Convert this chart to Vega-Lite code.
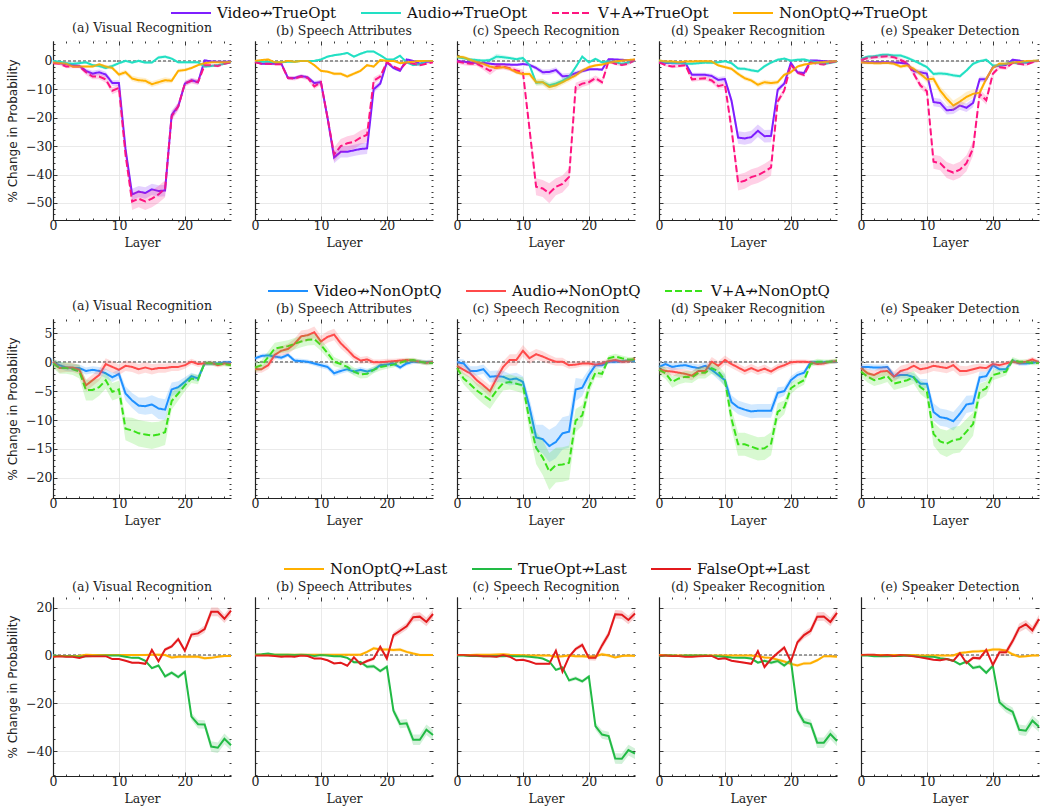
{
  "$schema": "https://vega.github.io/schema/vega-lite/v6.json",
  "padding": {"left": 6, "top": 2, "right": 5, "bottom": 2},
  "background": "white",
  "datasets": {
    "r1": [
      {"p":"a","s":"Video↛TrueOpt","l":[0,1,2,3,4,5,6,7,8,9,10,11,12,13,14,15,16,17,18,19,20,21,22,23,24,25,26,27],"v":[-0.5,-0.8,-1.2,-1.5,-1.8,-3.5,-4.5,-4,-4.8,-7.8,-7.8,-31,-47,-46,-46.5,-45.2,-45.8,-45.6,-19,-16,-8,-6.8,-7.5,0.2,-0.2,-0.3,-0.3,-0.2],"e":[0.3,0.3,0.4,0.5,0.6,0.8,1,1,1,1,1,1.5,2,2,2,2,2,2,1.5,1.2,0.8,0.8,0.8,0.4,0.3,0.3,0.3,0.3]},
      {"p":"a","s":"Audio↛TrueOpt","l":[0,1,2,3,4,5,6,7,8,9,10,11,12,13,14,15,16,17,18,19,20,21,22,23,24,25,26,27],"v":[0,-0.3,-0.8,-1,-0.8,-0.5,-1.5,-1.8,-2.5,-1.8,-0.8,0,-0.6,0,-0.6,-0.6,1.2,1.5,0.8,-0.5,-0.5,-0.5,-0.5,-2,-1.8,-1.5,-1,-0.5],"e":[0.4,0.4,0.4,0.5,0.5,0.5,0.5,0.6,0.6,0.6,0.5,0.5,0.5,0.5,0.5,0.5,0.6,0.6,0.5,0.5,0.5,0.5,0.5,0.5,0.5,0.4,0.4,0.4]},
      {"p":"a","s":"V+A↛TrueOpt","l":[0,1,2,3,4,5,6,7,8,9,10,11,12,13,14,15,16,17,18,19,20,21,22,23,24,25,26,27],"v":[-0.8,-1,-2,-2,-2,-4,-5.5,-5.5,-6.5,-10.5,-9.5,-33,-49.5,-48.5,-49.5,-48.5,-47,-45,-19.5,-16,-8,-7,-7.5,-1.5,-1.5,-1.8,-1,-0.5],"e":[0.4,0.5,0.6,0.6,0.6,1,1,1,1.2,1.2,1.2,2,3,3,3,3,3,3,1.5,1.5,1,1,1,0.6,0.5,0.5,0.4,0.4]},
      {"p":"a","s":"NonOptQ↛TrueOpt","l":[0,1,2,3,4,5,6,7,8,9,10,11,12,13,14,15,16,17,18,19,20,21,22,23,24,25,26,27],"v":[-0.5,-0.8,-1,-2,-2,-2,-2,-1.2,-2,-2.5,-4.8,-4,-6.2,-6.8,-7,-8.2,-7.5,-6.8,-7,-3.5,-3.2,-2.5,-1.5,-0.8,-0.5,-0.5,-0.5,-0.3],"e":[0.3,0.3,0.4,0.4,0.5,0.5,0.5,0.5,0.6,0.7,0.8,0.9,1,1,1,1,1,1,0.9,0.7,0.6,0.5,0.5,0.4,0.3,0.3,0.3,0.3]},
      {"p":"b","s":"Video↛TrueOpt","l":[0,1,2,3,4,5,6,7,8,9,10,11,12,13,14,15,16,17,18,19,20,21,22,23,24,25,26,27],"v":[-0.3,-1,-1,-1,-1,-6,-6,-5.3,-5.8,-7.8,-7.5,-20,-34,-32,-32,-31.5,-31,-30.8,-10,-8,-0.5,-2.5,-3.5,0.5,0,-1,-0.3,-0.2],"e":[0.3,0.3,0.3,0.3,0.3,0.6,0.6,0.6,0.7,0.8,0.8,1.5,2,2,2,2,2,2,1.2,1,0.5,0.5,0.5,0.3,0.3,0.3,0.3,0.3]},
      {"p":"b","s":"Audio↛TrueOpt","l":[0,1,2,3,4,5,6,7,8,9,10,11,12,13,14,15,16,17,18,19,20,21,22,23,24,25,26,27],"v":[-0.3,-0.3,-0.3,-0.5,-0.5,-0.3,-0.3,0,0,0,0.5,1.5,2,2.3,2.8,1.5,2.5,3.3,3.3,2,0.5,0.5,1.8,-0.5,-1.5,-1.2,0,0],"e":[0.3,0.3,0.3,0.3,0.3,0.3,0.3,0.3,0.3,0.3,0.4,0.4,0.4,0.4,0.4,0.4,0.4,0.4,0.4,0.4,0.4,0.4,0.4,0.3,0.3,0.3,0.3,0.3]},
      {"p":"b","s":"V+A↛TrueOpt","l":[0,1,2,3,4,5,6,7,8,9,10,11,12,13,14,15,16,17,18,19,20,21,22,23,24,25,26,27],"v":[-0.5,-1,-1,-1.2,-1.2,-6,-6.2,-5.5,-6,-9,-7.5,-20,-33,-30,-29,-28.5,-27,-26,-7,-5.5,-0.5,-2,-3,-0.5,-1,-1.5,-1,-0.5],"e":[0.3,0.3,0.4,0.4,0.4,0.7,0.7,0.7,0.8,1,1,1.5,2.5,2.5,2.5,2.5,2.5,2.5,1.2,1,0.5,0.5,0.5,0.4,0.4,0.4,0.3,0.3]},
      {"p":"b","s":"NonOptQ↛TrueOpt","l":[0,1,2,3,4,5,6,7,8,9,10,11,12,13,14,15,16,17,18,19,20,21,22,23,24,25,26,27],"v":[0,0.3,0.5,-0.5,-0.5,0,-0.3,0,0,-1.5,-3.5,-3.8,-4.5,-4.5,-5.5,-4.5,-3.5,-1.5,-2,0.3,0,0,-0.8,-0.5,-0.3,0,0,0],"e":[0.3,0.3,0.3,0.3,0.3,0.3,0.3,0.3,0.3,0.4,0.5,0.5,0.6,0.6,0.6,0.6,0.6,0.5,0.5,0.4,0.3,0.3,0.3,0.3,0.3,0.3,0.3,0.3]},
      {"p":"c","s":"Video↛TrueOpt","l":[0,1,2,3,4,5,6,7,8,9,10,11,12,13,14,15,16,17,18,19,20,21,22,23,24,25,26,27],"v":[0,-0.3,-0.5,-0.7,-0.7,-1,-1.2,-1.2,-1.3,-1.4,-1.1,-1.4,-2.5,-4,-3.9,-3.2,-5.4,-5.3,-4.3,-3.6,-3,-2.9,-3.1,0.6,0.5,0.4,0.2,0.2],"e":[0.4,0.4,0.4,0.5,0.5,0.5,0.5,0.5,0.5,0.5,0.5,0.6,0.8,1,1,1,1,1,0.8,0.7,0.6,0.5,0.5,0.4,0.3,0.3,0.3,0.3]},
      {"p":"c","s":"Audio↛TrueOpt","l":[0,1,2,3,4,5,6,7,8,9,10,11,12,13,14,15,16,17,18,19,20,21,22,23,24,25,26,27],"v":[1.3,0.9,0.5,0.3,0.1,0.3,1.5,1.3,1,0.6,1,-1.5,-7.7,-7.5,-8.6,-8,-7,-5.7,-2.2,1.5,-0.5,0.7,-0.5,-0.1,-0.5,-1,-0.6,0],"e":[0.6,0.5,0.5,0.5,0.5,0.6,1,0.8,0.6,0.6,0.6,0.6,1,1,1,1,1,0.8,0.6,0.6,0.5,0.5,0.5,0.5,0.5,0.5,0.4,0.4]},
      {"p":"c","s":"V+A↛TrueOpt","l":[0,1,2,3,4,5,6,7,8,9,10,11,12,13,14,15,16,17,18,19,20,21,22,23,24,25,26,27],"v":[-0.2,-0.7,-1,-1,-2.2,-3.5,-2,-2,-2.6,-3.4,-4,-24,-44.3,-44.9,-46.6,-44.3,-43.3,-40.8,-9.2,-8,-7.5,-6.1,-7.5,-0.1,-1,-1.4,-1,0.3],"e":[0.8,0.8,0.8,0.8,1,1.5,1.2,1,1,1,1,2,3,3,3.5,3,3,3,1.5,1.2,1,1,1,0.6,0.5,0.5,0.5,0.5]},
      {"p":"c","s":"NonOptQ↛TrueOpt","l":[0,1,2,3,4,5,6,7,8,9,10,11,12,13,14,15,16,17,18,19,20,21,22,23,24,25,26,27],"v":[1.5,1.3,0.4,-0.5,-1,-2,-2.5,-2.2,-2.8,-4,-4.6,-4.6,-7.5,-7.5,-9.2,-8.6,-7.5,-6.3,-5.1,-3.4,-2.2,-1.6,-1.3,-0.7,-0.2,0.1,0.3,0.5],"e":[0.7,0.6,0.6,0.6,0.6,0.6,0.6,0.6,0.6,0.7,0.8,0.9,1.2,1.2,1.2,1.2,1,1,0.8,0.7,0.6,0.5,0.5,0.4,0.4,0.4,0.4,0.4]},
      {"p":"d","s":"Video↛TrueOpt","l":[0,1,2,3,4,5,6,7,8,9,10,11,12,13,14,15,16,17,18,19,20,21,22,23,24,25,26,27],"v":[-0.5,-0.7,-0.8,-0.8,-0.7,-4.9,-4.9,-4.9,-5.3,-6.7,-6.4,-14,-27,-27.3,-26.8,-24.6,-26.5,-26.4,-10.2,-8,-0.7,-4,-4.3,0.1,0.1,-0.1,-0.2,-0.1],"e":[0.4,0.4,0.4,0.4,0.4,0.7,0.7,0.7,0.8,1,1,1.5,2.2,2.2,2.2,2.2,2.2,2.2,1,0.8,0.5,0.6,0.6,0.4,0.3,0.3,0.3,0.3]},
      {"p":"d","s":"Audio↛TrueOpt","l":[0,1,2,3,4,5,6,7,8,9,10,11,12,13,14,15,16,17,18,19,20,21,22,23,24,25,26,27],"v":[0.1,-0.5,-0.7,-0.8,-1,-1,-0.8,-0.6,-0.7,-0.5,-0.1,-0.8,-2.7,-2.8,-3.3,-3.7,-1.9,-0.6,0.4,0.8,0.1,0.4,0.5,-0.1,-0.6,-1,-0.7,-0.2],"e":[0.5,0.5,0.5,0.5,0.5,0.5,0.5,0.5,0.5,0.5,0.5,0.5,0.6,0.6,0.6,0.6,0.6,0.5,0.5,0.5,0.5,0.5,0.5,0.5,0.5,0.5,0.5,0.5]},
      {"p":"d","s":"V+A↛TrueOpt","l":[0,1,2,3,4,5,6,7,8,9,10,11,12,13,14,15,16,17,18,19,20,21,22,23,24,25,26,27],"v":[-0.5,-1.5,-2,-1.8,-1.5,-6.5,-6.3,-6.1,-6.9,-8.9,-8.3,-24,-42.8,-42.2,-40.9,-40.2,-39,-37.5,-14.3,-10.4,-1.4,-4.2,-5,-0.5,-1,-1.3,-0.6,-0.1],"e":[0.4,0.5,0.6,0.6,0.6,0.8,0.8,0.8,0.9,1,1,2,2.8,2.8,2.8,2.8,2.8,2.8,1.2,1,0.6,0.6,0.7,0.4,0.4,0.4,0.4,0.3]},
      {"p":"d","s":"NonOptQ↛TrueOpt","l":[0,1,2,3,4,5,6,7,8,9,10,11,12,13,14,15,16,17,18,19,20,21,22,23,24,25,26,27],"v":[0.1,-0.2,-0.2,-0.5,-0.2,-0.2,-0.1,-0.1,-0.2,-1.6,-2.2,-2.8,-4.6,-6.1,-6.9,-8.4,-7.5,-7.8,-7.5,-4.9,-4,-2,-1.3,-1,-0.6,-0.4,-0.2,-0.1],"e":[0.4,0.4,0.4,0.4,0.4,0.4,0.4,0.4,0.4,0.5,0.6,0.7,0.8,0.8,0.8,0.9,0.9,0.9,0.8,0.7,0.6,0.5,0.5,0.4,0.4,0.4,0.4,0.4]},
      {"p":"e","s":"Video↛TrueOpt","l":[0,1,2,3,4,5,6,7,8,9,10,11,12,13,14,15,16,17,18,19,20,21,22,23,24,25,26,27],"v":[-0.5,-0.5,-0.5,-0.5,-0.5,-0.6,-0.7,-1,-3.6,-4,-4.5,-14.5,-14.8,-17.4,-17.2,-15.7,-16.5,-14.8,-6.5,-6.5,-2.2,-1.6,-1.4,0.4,0.1,-0.6,-0.2,0.1],"e":[0.5,0.5,0.5,0.5,0.5,0.5,0.5,0.6,0.8,1,1,1.5,1.5,1.5,1.5,1.5,1.5,1.5,1,0.8,0.6,0.5,0.5,0.4,0.4,0.4,0.3,0.3]},
      {"p":"e","s":"Audio↛TrueOpt","l":[0,1,2,3,4,5,6,7,8,9,10,11,12,13,14,15,16,17,18,19,20,21,22,23,24,25,26,27],"v":[0.7,1.5,1.6,2.1,2.2,1.9,1.9,1.1,0.1,-1,-2.2,-4.6,-4.4,-4.6,-5.1,-5.4,-3.4,-1,-0.1,0.4,-1.6,-1.6,-1,-0.5,-1,-0.5,-0.1,0.1],"e":[0.6,0.6,0.6,0.6,0.6,0.6,0.6,0.6,0.6,0.6,0.6,0.7,0.7,0.7,0.7,0.7,0.6,0.6,0.5,0.5,0.5,0.5,0.5,0.4,0.4,0.4,0.4,0.4]},
      {"p":"e","s":"V+A↛TrueOpt","l":[0,1,2,3,4,5,6,7,8,9,10,11,12,13,14,15,16,17,18,19,20,21,22,23,24,25,26,27],"v":[0.3,1,1.3,1.5,1.6,1.3,0.3,-0.7,-4.5,-8.6,-10.7,-35.5,-36,-38.4,-39.3,-38.3,-36,-30.8,-11.6,-13.9,-4.5,-2.2,-2.5,-0.7,-1,-1.4,-0.5,0.1],"e":[0.6,0.7,0.7,0.7,0.7,0.7,0.8,0.8,1,1.2,1.2,2.5,2.5,2.8,2.8,2.8,2.8,2.5,1.5,1.5,0.8,0.7,0.7,0.5,0.5,0.5,0.4,0.4]},
      {"p":"e","s":"NonOptQ↛TrueOpt","l":[0,1,2,3,4,5,6,7,8,9,10,11,12,13,14,15,16,17,18,19,20,21,22,23,24,25,26,27],"v":[-0.5,-0.7,-0.8,-0.8,-0.7,-1,-2,-1.6,-2.8,-4.6,-6.5,-6.3,-10.4,-13.3,-15.7,-14.3,-12.7,-11.6,-11.2,-6.3,-2.4,-1,-1,-0.6,-0.4,-0.1,0,0.1],"e":[0.6,0.6,0.6,0.6,0.6,0.6,0.7,0.7,0.8,1,1.2,1.2,1.5,1.8,1.8,1.8,1.8,1.5,1.2,1,0.7,0.6,0.5,0.4,0.4,0.4,0.4,0.4]}
    ],
    "r2": [
      {"p":"a","s":"Video↛NonOptQ","l":[0,1,2,3,4,5,6,7,8,9,10,11,12,13,14,15,16,17,18,19,20,21,22,23,24,25,26,27],"v":[0,-0.5,-0.9,-1,-1,-1.5,-1.3,-1.5,-1.9,-2.6,-2,-5.4,-6.6,-7.5,-7.6,-7.3,-8,-8.2,-4.7,-4.3,-3.4,-2.4,-2.8,-0.2,-0.2,-0.2,0,0],"e":[0.6,0.6,0.6,0.6,0.6,0.6,0.6,0.7,0.8,0.8,0.8,1.2,1.3,1.4,1.5,1.6,1.8,1.8,1.2,1,0.8,0.6,0.6,0.4,0.4,0.3,0.3,0.3]},
      {"p":"a","s":"Audio↛NonOptQ","l":[0,1,2,3,4,5,6,7,8,9,10,11,12,13,14,15,16,17,18,19,20,21,22,23,24,25,26,27],"v":[0.1,-1,-0.9,-0.9,-1.3,-4,-3.1,-2.2,-0.3,-0.8,-1.3,-0.6,-0.8,-1.2,-0.9,-1.2,-1,-1,-0.8,-0.8,-0.5,0.1,-0.3,-0.2,-0.1,-0.5,-0.2,-0.3],"e":[0.6,0.8,0.8,0.8,0.8,1,1,1,1,1,0.9,0.9,0.9,0.9,0.9,0.9,0.8,0.8,0.7,0.7,0.6,0.5,0.5,0.4,0.4,0.4,0.4,0.4]},
      {"p":"a","s":"V+A↛NonOptQ","l":[0,1,2,3,4,5,6,7,8,9,10,11,12,13,14,15,16,17,18,19,20,21,22,23,24,25,26,27],"v":[-0.2,-1,-1,-1.2,-1.6,-4.8,-4.8,-4.3,-3.1,-5.1,-4.7,-11.5,-11.8,-12.3,-12.5,-12.7,-12.5,-12.1,-6.7,-5.4,-4,-2.8,-3,-0.1,-0.2,-0.3,-0.3,-0.5],"e":[0.8,1,1,1,1.2,1.8,1.8,1.5,1.5,1.5,1.5,2,2.2,2.3,2.3,2.3,2.2,2.2,1.5,1.2,1,0.8,0.8,0.4,0.4,0.4,0.4,0.4]},
      {"p":"b","s":"Video↛NonOptQ","l":[0,1,2,3,4,5,6,7,8,9,10,11,12,13,14,15,16,17,18,19,20,21,22,23,24,25,26,27],"v":[0.7,1.1,1.2,1,0.8,1.3,0.3,0.2,0.1,-0.2,-0.5,-0.8,-1.9,-1.5,-1.2,-1.6,-1.3,-1.6,-1.3,-0.5,-0.4,-0.2,-0.9,-0.2,0.1,0.1,0,0.1],"e":[0.4,0.4,0.4,0.4,0.4,0.4,0.4,0.4,0.4,0.4,0.5,0.5,0.5,0.5,0.5,0.5,0.5,0.5,0.5,0.4,0.4,0.4,0.4,0.4,0.4,0.4,0.4,0.4]},
      {"p":"b","s":"Audio↛NonOptQ","l":[0,1,2,3,4,5,6,7,8,9,10,11,12,13,14,15,16,17,18,19,20,21,22,23,24,25,26,27],"v":[-1.2,-1.2,-0.5,1.3,2,2.3,3.2,4.5,4.7,5.2,3.6,4.4,4.8,3.3,2.2,1,0.3,0.5,0,0,0.1,0.2,0.3,0.4,0.3,0.1,-0.1,0.1],"e":[0.6,0.6,0.7,0.8,0.8,0.9,0.9,1,1,1,1,1,1,0.9,0.8,0.7,0.6,0.6,0.5,0.5,0.5,0.4,0.4,0.4,0.4,0.4,0.4,0.4]},
      {"p":"b","s":"V+A↛NonOptQ","l":[0,1,2,3,4,5,6,7,8,9,10,11,12,13,14,15,16,17,18,19,20,21,22,23,24,25,26,27],"v":[-0.9,-0.5,0.9,2.4,2.6,2.8,3.2,3.6,3.9,4,3,1.6,0.1,-0.3,-0.8,-1.6,-2.1,-2,-1.3,-0.8,-0.6,-0.4,-0.1,0.3,0.4,0.1,-0.1,-0.1],"e":[0.8,0.9,1,1,1,1,1,1,1,1,1,0.9,0.8,0.7,0.7,0.7,0.7,0.7,0.6,0.6,0.5,0.5,0.4,0.4,0.4,0.4,0.4,0.4]},
      {"p":"c","s":"Video↛NonOptQ","l":[0,1,2,3,4,5,6,7,8,9,10,11,12,13,14,15,16,17,18,19,20,21,22,23,24,25,26,27],"v":[0,-0.2,-1.5,-1.5,-1.2,-2.5,-2.4,-2.5,-3,-2.8,-3.4,-7.8,-13,-13.3,-14.5,-13.8,-12.3,-12,-4.7,-4.4,-2.2,-0.5,-0.5,0.1,0.1,0.2,0.3,0.2],"e":[0.6,0.7,0.8,0.8,0.8,1,1,1,1,1,1,1.5,2.2,2.5,2.8,2.8,2.8,2.8,2,1.5,1,0.6,0.5,0.4,0.4,0.3,0.3,0.3]},
      {"p":"c","s":"Audio↛NonOptQ","l":[0,1,2,3,4,5,6,7,8,9,10,11,12,13,14,15,16,17,18,19,20,21,22,23,24,25,26,27],"v":[-0.6,-1.3,-1.9,-3.1,-4,-5,-2.8,-0.8,0.4,0.4,2,0.7,1.4,1,0.5,0.1,0.1,-0.5,-0.4,-0.2,-0.2,-0.4,-0.2,0.2,0.4,0.1,0.2,0.6],"e":[0.7,0.8,0.8,0.9,0.9,1,1,1,1,1,1,1,0.9,0.9,0.8,0.7,0.7,0.6,0.6,0.5,0.5,0.5,0.5,0.4,0.4,0.4,0.4,0.4]},
      {"p":"c","s":"V+A↛NonOptQ","l":[0,1,2,3,4,5,6,7,8,9,10,11,12,13,14,15,16,17,18,19,20,21,22,23,24,25,26,27],"v":[-1,-2.8,-3.8,-4.9,-5.7,-6.5,-4.9,-3.6,-3.4,-3.7,-4,-10.1,-14.8,-16.5,-18.9,-17.8,-17.7,-17.4,-10.1,-9.2,-4.3,-1.8,-2,0.7,1,0.7,0.5,0.5],"e":[0.8,1,1.2,1.3,1.5,1.6,1.5,1.3,1.3,1.3,1.4,2,2.8,3,3.2,3,3,3,2,1.8,1.2,0.8,0.7,0.5,0.5,0.5,0.4,0.4]},
      {"p":"d","s":"Video↛NonOptQ","l":[0,1,2,3,4,5,6,7,8,9,10,11,12,13,14,15,16,17,18,19,20,21,22,23,24,25,26,27],"v":[-0.8,-0.3,-0.8,-0.6,-0.5,-0.8,-1,-0.6,-1.3,-2.2,-3.1,-6.9,-7.8,-8.2,-8.5,-8.4,-8.4,-8.4,-5.3,-5,-3.1,-2.2,-1.8,0,0,0,0.1,0.1],"e":[0.6,0.6,0.6,0.6,0.6,0.6,0.6,0.6,0.7,0.8,1,1.2,1.2,1.2,1.2,1.2,1.2,1.2,1,0.8,0.7,0.6,0.5,0.4,0.4,0.3,0.3,0.3]},
      {"p":"d","s":"Audio↛NonOptQ","l":[0,1,2,3,4,5,6,7,8,9,10,11,12,13,14,15,16,17,18,19,20,21,22,23,24,25,26,27],"v":[-1.2,-1.5,-1.6,-1.8,-2,-2.3,-1.5,-1.5,0.1,-0.6,0.4,-0.3,-0.9,-1.5,-1,-1.5,-1.1,-1.6,-0.9,-0.5,0,0.1,0.1,0,-0.3,-0.2,0.1,0.2],"e":[0.7,0.7,0.7,0.7,0.8,0.8,0.8,0.8,0.8,0.8,0.8,0.7,0.7,0.7,0.7,0.7,0.7,0.6,0.6,0.5,0.5,0.4,0.4,0.4,0.4,0.4,0.4,0.4]},
      {"p":"d","s":"V+A↛NonOptQ","l":[0,1,2,3,4,5,6,7,8,9,10,11,12,13,14,15,16,17,18,19,20,21,22,23,24,25,26,27],"v":[-1.3,-1.9,-3.4,-2.8,-2.5,-2.6,-1.8,-1.8,-1,-1.6,-3.1,-9.8,-14.2,-14.2,-14.6,-15,-14.9,-14.1,-8.6,-7.8,-4.5,-3.7,-3.1,-0.3,0.1,0.1,0.1,0.3],"e":[0.8,1,1,1,1,1,1,1,1,1,1.2,1.8,2,2,2,2,2,2,1.5,1.2,1,0.8,0.8,0.5,0.5,0.4,0.4,0.4]},
      {"p":"e","s":"Video↛NonOptQ","l":[0,1,2,3,4,5,6,7,8,9,10,11,12,13,14,15,16,17,18,19,20,21,22,23,24,25,26,27],"v":[-0.8,-0.8,-0.9,-0.9,-0.8,-2.4,-2.2,-2.2,-2.6,-3.7,-3.7,-8.6,-9.5,-9.7,-10.2,-8.9,-7.3,-7.1,-2.6,-2.4,-0.5,-1.2,-1.2,0.3,-0.2,-0.2,-0.1,0.1],"e":[0.5,0.5,0.5,0.5,0.5,0.6,0.6,0.6,0.7,0.8,0.8,1.5,1.5,1.5,1.6,1.6,1.5,1.4,1,0.8,0.6,0.5,0.5,0.4,0.4,0.4,0.3,0.3]},
      {"p":"e","s":"Audio↛NonOptQ","l":[0,1,2,3,4,5,6,7,8,9,10,11,12,13,14,15,16,17,18,19,20,21,22,23,24,25,26,27],"v":[-1,-1.9,-2.2,-1.6,-1.5,-2.5,-1.5,-1.2,-0.6,-1.2,-1,-0.6,-0.8,-1,-0.5,-1.5,-1.5,-1.2,-0.9,-1,-0.3,-0.5,-0.2,0.1,-0.1,0.1,0.5,0],"e":[0.6,0.7,0.8,0.8,0.8,0.9,0.9,0.9,0.9,0.9,0.9,0.9,0.9,0.9,0.9,0.9,0.8,0.8,0.7,0.6,0.5,0.5,0.4,0.4,0.4,0.4,0.4,0.4]},
      {"p":"e","s":"V+A↛NonOptQ","l":[0,1,2,3,4,5,6,7,8,9,10,11,12,13,14,15,16,17,18,19,20,21,22,23,24,25,26,27],"v":[-1.6,-2.5,-3.1,-2.8,-2.4,-3.7,-3.4,-3.1,-2.6,-4.3,-5.1,-12.4,-13.7,-14.1,-13.5,-13.3,-12,-10.7,-5.1,-4.5,-2.2,-1.9,-1.6,0.4,0.1,0.1,-0.1,-0.1],"e":[0.8,1,1,1,1,1.1,1.1,1.1,1.1,1.2,1.3,2,2.2,2.3,2.3,2.3,2.2,2,1.4,1.2,0.9,0.8,0.7,0.5,0.4,0.4,0.4,0.4]}
    ],
    "r3": [
      {"p":"a","s":"NonOptQ↛Last","l":[0,1,2,3,4,5,6,7,8,9,10,11,12,13,14,15,16,17,18,19,20,21,22,23,24,25,26,27],"v":[-0.3,-0.2,-0.2,-0.2,-0.1,0.3,0.2,0.2,0.2,0.2,0.2,0.2,0.2,0.2,0.2,0.3,0.3,0.2,-0.8,-0.5,-0.5,-0.5,-0.5,-1.2,-1,-0.5,-0.2,-0.2],"e":[0.4,0.4,0.4,0.4,0.4,0.4,0.4,0.4,0.4,0.4,0.4,0.4,0.4,0.4,0.5,0.5,0.6,0.6,0.7,0.7,0.7,0.7,0.7,0.7,0.6,0.5,0.5,0.5]},
      {"p":"a","s":"TrueOpt↛Last","l":[0,1,2,3,4,5,6,7,8,9,10,11,12,13,14,15,16,17,18,19,20,21,22,23,24,25,26,27],"v":[0,-0.2,-0.3,-0.3,-0.5,-0.3,-0.2,-0.1,0,0,0,-0.5,-1,-1,-2.2,-5.3,-4.2,-8.7,-7.2,-9,-6.8,-25.5,-28.7,-28.8,-38,-38.5,-34.8,-37.5],"e":[0.2,0.2,0.2,0.2,0.2,0.2,0.2,0.2,0.2,0.2,0.2,0.3,0.3,0.4,0.5,0.6,0.6,0.8,0.8,0.8,0.8,1.5,1.8,1.8,2.2,2.2,2.2,2.2]},
      {"p":"a","s":"FalseOpt↛Last","l":[0,1,2,3,4,5,6,7,8,9,10,11,12,13,14,15,16,17,18,19,20,21,22,23,24,25,26,27],"v":[-0.5,-0.3,-0.5,-0.5,-1,-0.2,-0.3,-0.3,-0.3,-1.5,-1.5,-2.2,-3,-3,-3.5,2.3,-2.4,2.5,3.8,6.8,2,8.7,9.2,11,18.2,18.2,15.3,18.7],"e":[0.2,0.2,0.2,0.2,0.2,0.2,0.2,0.2,0.2,0.3,0.3,0.3,0.4,0.4,0.4,0.6,0.6,0.7,0.8,1,1,1.2,1.4,1.5,1.8,1.8,1.8,1.8]},
      {"p":"b","s":"NonOptQ↛Last","l":[0,1,2,3,4,5,6,7,8,9,10,11,12,13,14,15,16,17,18,19,20,21,22,23,24,25,26,27],"v":[0.3,0.3,0.3,0.3,0.3,0.3,0.3,0.3,0.3,0.3,0.3,0.3,0.3,0.3,0.3,0.3,0.3,1.5,3,2.5,2.5,2.3,2.5,1.5,0.8,0.2,0.2,0.2],"e":[0.4,0.4,0.4,0.4,0.4,0.4,0.4,0.4,0.4,0.4,0.4,0.4,0.4,0.4,0.5,0.5,0.6,0.6,0.7,0.7,0.7,0.7,0.7,0.7,0.6,0.5,0.5,0.5]},
      {"p":"b","s":"TrueOpt↛Last","l":[0,1,2,3,4,5,6,7,8,9,10,11,12,13,14,15,16,17,18,19,20,21,22,23,24,25,26,27],"v":[0.3,0.5,0.8,0.3,0.3,0.3,0.2,0.3,0.2,-0.2,0.2,0,-0.3,-0.3,-1,-2.8,-2.7,-4.7,-4.5,-6.5,-4.7,-23,-28.6,-28.3,-35.2,-35.2,-31,-33.2],"e":[0.2,0.2,0.2,0.2,0.2,0.2,0.2,0.2,0.2,0.2,0.2,0.3,0.3,0.4,0.5,0.6,0.6,0.8,0.8,0.8,0.8,1.5,1.8,1.8,2.2,2.2,2.2,2.2]},
      {"p":"b","s":"FalseOpt↛Last","l":[0,1,2,3,4,5,6,7,8,9,10,11,12,13,14,15,16,17,18,19,20,21,22,23,24,25,26,27],"v":[0,0,0,-0.2,-0.5,-0.3,-0.5,0,-0.2,-1.3,-1.3,-2,-3.3,-3,-4.3,-0.8,-3.6,-2.3,-1.3,3.6,-1.3,8.5,10.3,12.2,16,16.2,14,17.3],"e":[0.2,0.2,0.2,0.2,0.2,0.2,0.2,0.2,0.2,0.3,0.3,0.3,0.4,0.4,0.4,0.6,0.6,0.7,0.8,1,1,1.2,1.4,1.5,1.8,1.8,1.8,1.8]},
      {"p":"c","s":"NonOptQ↛Last","l":[0,1,2,3,4,5,6,7,8,9,10,11,12,13,14,15,16,17,18,19,20,21,22,23,24,25,26,27],"v":[0.2,0.2,0.2,0.3,0.3,0.3,0.4,0.5,0.3,0.2,0.1,0,0,0,0,-0.5,-0.3,0,-0.3,-0.3,-0.5,-0.3,0.5,0,-0.8,-0.2,0,-0.2],"e":[0.4,0.4,0.4,0.4,0.4,0.4,0.4,0.4,0.4,0.4,0.4,0.4,0.4,0.4,0.5,0.5,0.6,0.6,0.7,0.7,0.7,0.7,0.7,0.7,0.6,0.5,0.5,0.5]},
      {"p":"c","s":"TrueOpt↛Last","l":[0,1,2,3,4,5,6,7,8,9,10,11,12,13,14,15,16,17,18,19,20,21,22,23,24,25,26,27],"v":[0,0,-0.2,-0.2,-0.3,-0.3,-0.2,-0.3,-0.2,-0.3,-0.3,-0.5,-0.8,-1.3,-2.5,-6,-5,-10.4,-9.5,-10.8,-8.8,-29.5,-33,-33.6,-43,-43.1,-39.5,-41],"e":[0.2,0.2,0.2,0.2,0.2,0.2,0.2,0.2,0.2,0.2,0.2,0.3,0.3,0.4,0.5,0.6,0.6,0.8,0.8,0.8,0.8,1.5,1.8,1.8,2.2,2.2,2.2,2.2]},
      {"p":"c","s":"FalseOpt↛Last","l":[0,1,2,3,4,5,6,7,8,9,10,11,12,13,14,15,16,17,18,19,20,21,22,23,24,25,26,27],"v":[0.2,0.2,0,0,-0.3,-0.3,-0.5,0.2,-0.5,-2,-1.8,-2.5,-3.5,-3.5,-3.5,2,-6.8,-0.5,2.7,4.4,-1,-1,4.2,8.8,17.2,17,14.8,17.5],"e":[0.2,0.2,0.2,0.2,0.2,0.2,0.2,0.2,0.2,0.3,0.3,0.3,0.4,0.4,0.4,0.6,0.6,0.7,0.8,1,1,1.2,1.4,1.5,1.8,1.8,1.8,1.8]},
      {"p":"d","s":"NonOptQ↛Last","l":[0,1,2,3,4,5,6,7,8,9,10,11,12,13,14,15,16,17,18,19,20,21,22,23,24,25,26,27],"v":[0.2,0.1,0,0,0,0,0,0,0,0,0,0,0,0,0,-0.3,-0.8,-1,-1.8,-2.5,-3.5,-4.2,-3.3,-3.2,-2,-0.3,-0.3,-0.5],"e":[0.4,0.4,0.4,0.4,0.4,0.4,0.4,0.4,0.4,0.4,0.4,0.4,0.4,0.4,0.5,0.5,0.6,0.6,0.7,0.7,0.7,0.7,0.7,0.7,0.6,0.5,0.5,0.5]},
      {"p":"d","s":"TrueOpt↛Last","l":[0,1,2,3,4,5,6,7,8,9,10,11,12,13,14,15,16,17,18,19,20,21,22,23,24,25,26,27],"v":[-0.3,0,0,-0.2,0,0,0,0,-0.2,-0.3,-0.5,-0.8,-1,-1,-1.3,-3,-2.2,-3,-2.3,-4.2,-2,-23,-27.8,-28.5,-36.4,-36.4,-32.8,-35.7],"e":[0.2,0.2,0.2,0.2,0.2,0.2,0.2,0.2,0.2,0.2,0.2,0.3,0.3,0.4,0.5,0.6,0.6,0.8,0.8,0.8,0.8,1.5,1.8,1.8,2.2,2.2,2.2,2.2]},
      {"p":"d","s":"FalseOpt↛Last","l":[0,1,2,3,4,5,6,7,8,9,10,11,12,13,14,15,16,17,18,19,20,21,22,23,24,25,26,27],"v":[0,0,-0.2,-0.2,-0.5,-0.5,-0.3,-0.2,-0.2,-1.5,-1.2,-2.2,-2.6,-3,-3.5,1.8,-4.8,-1.5,1,3.3,-2.5,5.5,8.5,10.3,16.2,16.3,14,17.8],"e":[0.2,0.2,0.2,0.2,0.2,0.2,0.2,0.2,0.2,0.3,0.3,0.3,0.4,0.4,0.4,0.6,0.6,0.7,0.8,1,1,1.2,1.4,1.5,1.8,1.8,1.8,1.8]},
      {"p":"e","s":"NonOptQ↛Last","l":[0,1,2,3,4,5,6,7,8,9,10,11,12,13,14,15,16,17,18,19,20,21,22,23,24,25,26,27],"v":[0.2,0.2,0.2,0.2,0.2,0.2,0.2,0.2,0.2,0,0,0,0,0,0,1,1.3,1.7,1.8,2,2.5,2.5,2,0.5,-0.5,-0.3,0,0],"e":[0.4,0.4,0.4,0.4,0.4,0.4,0.4,0.4,0.4,0.4,0.4,0.4,0.4,0.4,0.5,0.5,0.6,0.6,0.7,0.7,0.7,0.7,0.7,0.7,0.6,0.5,0.5,0.5]},
      {"p":"e","s":"TrueOpt↛Last","l":[0,1,2,3,4,5,6,7,8,9,10,11,12,13,14,15,16,17,18,19,20,21,22,23,24,25,26,27],"v":[0,0,-0.3,-0.2,-0.3,-0.2,-0.2,0,-0.2,-0.5,-0.5,-0.5,-1.2,-1.5,-2.2,-3.7,-2.5,-5.2,-4.6,-7.2,-4.3,-19.5,-22,-23.5,-31,-31.4,-27.2,-29.7],"e":[0.2,0.2,0.2,0.2,0.2,0.2,0.2,0.2,0.2,0.2,0.2,0.3,0.3,0.4,0.5,0.6,0.6,0.8,0.8,0.8,0.8,1.5,1.8,1.8,2.2,2.2,2.2,2.2]},
      {"p":"e","s":"FalseOpt↛Last","l":[0,1,2,3,4,5,6,7,8,9,10,11,12,13,14,15,16,17,18,19,20,21,22,23,24,25,26,27],"v":[0.2,0.3,0.3,0,0.2,-0.2,0.2,0,-0.3,-0.8,-1.3,-1.8,-2,-1.5,-2.3,1,-3.2,-1,-1.2,2.3,-4,1.3,1.3,6,11.5,13,10.5,15.2],"e":[0.2,0.2,0.2,0.2,0.2,0.2,0.2,0.2,0.2,0.3,0.3,0.3,0.4,0.4,0.4,0.6,0.6,0.7,0.8,1,1,1.2,1.4,1.5,1.8,1.8,1.8,1.8]}
    ]
  },
  "vconcat": [
    {
      "data": {"name": "r1"},
      "transform": [{"flatten": ["l", "v", "e"]}],
      "spacing": 16,
      "hconcat": [
        {"title": "(a) Visual Recognition", "width": 178, "height": 179, "transform": [{"filter": "datum.p === 'a'"}],
         "layer": [
          {"mark": {"type": "rule", "color": "#999999", "strokeWidth": 0.7, "strokeDash": [3, 2]}, "encoding": {"y": {"datum": 0, "type": "quantitative", "scale": {"domain": [-56, 7], "nice": false, "zero": false}, "axis": null}}},
          {"mark": {"type": "line", "strokeWidth": 2},
           "encoding": {
            "x": {"field": "l", "type": "quantitative", "scale": {"domain": [0, 27], "nice": false}, "axis": {"orient": "bottom", "values": [0,2,4,6,8,10,12,14,16,18,20,22,24,26], "labelExpr": "datum.value % 10 === 0 ? datum.label : ''", "grid": true, "gridOpacity": {"condition": {"test": "datum.value % 10 === 0", "value": 1}, "value": 0}, "title": "Layer", "tickSize": {"condition": {"test": "datum.value % 10 === 0", "value": -4}, "value": -2}}},
            "y": {"field": "v", "type": "quantitative", "scale": {"domain": [-56, 7], "nice": false, "zero": false}, "axis": {"orient": "left", "values": [-54,-52,-50,-48,-46,-44,-42,-40,-38,-36,-34,-32,-30,-28,-26,-24,-22,-20,-18,-16,-14,-12,-10,-8,-6,-4,-2,0,2,4,6], "labelExpr": "datum.value % 10 === 0 ? replace(datum.label, '-', '−') : ''", "labelPadding": 5, "grid": true, "gridOpacity": {"condition": {"test": "datum.value % 10 === 0", "value": 1}, "value": 0}, "title": "% Change in Probability", "titleFont": "DejaVu Sans", "titleFontSize": 12, "titlePadding": 6, "tickSize": {"condition": {"test": "datum.value % 10 === 0", "value": -4}, "value": -2}}},
            "color": {"field": "s", "type": "nominal", "scale": {"domain": ["Video↛TrueOpt", "Audio↛TrueOpt", "V+A↛TrueOpt", "NonOptQ↛TrueOpt"], "range": ["#7f1fff", "#22e0c4", "#ff1480", "#ffb000"]}, "legend": {"title": null, "legendX": 127, "legendY": -39}},
            "strokeDash": {"field": "s", "type": "nominal", "scale": {"domain": ["Video↛TrueOpt", "Audio↛TrueOpt", "V+A↛TrueOpt", "NonOptQ↛TrueOpt"], "range": [[1, 0], [1, 0], [7, 3], [1, 0]]}, "legend": {"title": null, "legendX": 127, "legendY": -39}}}},
          {"mark": {"type": "errorband", "opacity": 0.2},
           "encoding": {
            "x": {"field": "l", "type": "quantitative", "scale": {"domain": [0, 27], "nice": false}, "axis": {"orient": "top", "values": [0,2,4,6,8,10,12,14,16,18,20,22,24,26], "labels": false, "domain": false, "grid": false, "title": null, "tickSize": {"condition": {"test": "datum.value % 10 === 0", "value": -4}, "value": -2}}},
            "y": {"field": "v", "type": "quantitative", "scale": {"domain": [-56, 7], "nice": false, "zero": false}, "axis": {"orient": "right", "values": [-54,-52,-50,-48,-46,-44,-42,-40,-38,-36,-34,-32,-30,-28,-26,-24,-22,-20,-18,-16,-14,-12,-10,-8,-6,-4,-2,0,2,4,6], "labels": false, "domain": false, "grid": false, "title": null, "tickSize": {"condition": {"test": "datum.value % 10 === 0", "value": -4}, "value": -2}}},
            "yError": {"field": "e"},
            "color": {"field": "s", "type": "nominal", "scale": {"domain": ["Video↛TrueOpt", "Audio↛TrueOpt", "V+A↛TrueOpt", "NonOptQ↛TrueOpt"], "range": ["#7f1fff", "#22e0c4", "#ff1480", "#ffb000"]}, "legend": null}}}
         ],
         "resolve": {"axis": {"x": "independent", "y": "independent"}}},
        {"title": "(b) Speech Attributes", "width": 178, "height": 179, "transform": [{"filter": "datum.p === 'b'"}],
         "layer": [
          {"mark": {"type": "rule", "color": "#999999", "strokeWidth": 0.7, "strokeDash": [3, 2]}, "encoding": {"y": {"datum": 0, "type": "quantitative", "scale": {"domain": [-56, 7], "nice": false, "zero": false}, "axis": null}}},
          {"mark": {"type": "line", "strokeWidth": 2},
           "encoding": {
            "x": {"field": "l", "type": "quantitative", "scale": {"domain": [0, 27], "nice": false}, "axis": {"orient": "bottom", "values": [0,2,4,6,8,10,12,14,16,18,20,22,24,26], "labelExpr": "datum.value % 10 === 0 ? datum.label : ''", "grid": true, "gridOpacity": {"condition": {"test": "datum.value % 10 === 0", "value": 1}, "value": 0}, "title": "Layer", "tickSize": {"condition": {"test": "datum.value % 10 === 0", "value": -4}, "value": -2}}},
            "y": {"field": "v", "type": "quantitative", "scale": {"domain": [-56, 7], "nice": false, "zero": false}, "axis": {"orient": "left", "values": [-54,-52,-50,-48,-46,-44,-42,-40,-38,-36,-34,-32,-30,-28,-26,-24,-22,-20,-18,-16,-14,-12,-10,-8,-6,-4,-2,0,2,4,6], "labels": false, "grid": true, "gridOpacity": {"condition": {"test": "datum.value % 10 === 0", "value": 1}, "value": 0}, "title": null, "tickSize": {"condition": {"test": "datum.value % 10 === 0", "value": -4}, "value": -2}}},
            "color": {"field": "s", "type": "nominal", "scale": {"domain": ["Video↛TrueOpt", "Audio↛TrueOpt", "V+A↛TrueOpt", "NonOptQ↛TrueOpt"], "range": ["#7f1fff", "#22e0c4", "#ff1480", "#ffb000"]}, "legend": {"title": null, "legendX": 127, "legendY": -39}},
            "strokeDash": {"field": "s", "type": "nominal", "scale": {"domain": ["Video↛TrueOpt", "Audio↛TrueOpt", "V+A↛TrueOpt", "NonOptQ↛TrueOpt"], "range": [[1, 0], [1, 0], [7, 3], [1, 0]]}, "legend": {"title": null, "legendX": 127, "legendY": -39}}}},
          {"mark": {"type": "errorband", "opacity": 0.2},
           "encoding": {
            "x": {"field": "l", "type": "quantitative", "scale": {"domain": [0, 27], "nice": false}, "axis": {"orient": "top", "values": [0,2,4,6,8,10,12,14,16,18,20,22,24,26], "labels": false, "domain": false, "grid": false, "title": null, "tickSize": {"condition": {"test": "datum.value % 10 === 0", "value": -4}, "value": -2}}},
            "y": {"field": "v", "type": "quantitative", "scale": {"domain": [-56, 7], "nice": false, "zero": false}, "axis": {"orient": "right", "values": [-54,-52,-50,-48,-46,-44,-42,-40,-38,-36,-34,-32,-30,-28,-26,-24,-22,-20,-18,-16,-14,-12,-10,-8,-6,-4,-2,0,2,4,6], "labels": false, "domain": false, "grid": false, "title": null, "tickSize": {"condition": {"test": "datum.value % 10 === 0", "value": -4}, "value": -2}}},
            "yError": {"field": "e"},
            "color": {"field": "s", "type": "nominal", "scale": {"domain": ["Video↛TrueOpt", "Audio↛TrueOpt", "V+A↛TrueOpt", "NonOptQ↛TrueOpt"], "range": ["#7f1fff", "#22e0c4", "#ff1480", "#ffb000"]}, "legend": null}}}
         ],
         "resolve": {"axis": {"x": "independent", "y": "independent"}}},
        {"title": "(c) Speech Recognition", "width": 178, "height": 179, "transform": [{"filter": "datum.p === 'c'"}],
         "layer": [
          {"mark": {"type": "rule", "color": "#999999", "strokeWidth": 0.7, "strokeDash": [3, 2]}, "encoding": {"y": {"datum": 0, "type": "quantitative", "scale": {"domain": [-56, 7], "nice": false, "zero": false}, "axis": null}}},
          {"mark": {"type": "line", "strokeWidth": 2},
           "encoding": {
            "x": {"field": "l", "type": "quantitative", "scale": {"domain": [0, 27], "nice": false}, "axis": {"orient": "bottom", "values": [0,2,4,6,8,10,12,14,16,18,20,22,24,26], "labelExpr": "datum.value % 10 === 0 ? datum.label : ''", "grid": true, "gridOpacity": {"condition": {"test": "datum.value % 10 === 0", "value": 1}, "value": 0}, "title": "Layer", "tickSize": {"condition": {"test": "datum.value % 10 === 0", "value": -4}, "value": -2}}},
            "y": {"field": "v", "type": "quantitative", "scale": {"domain": [-56, 7], "nice": false, "zero": false}, "axis": {"orient": "left", "values": [-54,-52,-50,-48,-46,-44,-42,-40,-38,-36,-34,-32,-30,-28,-26,-24,-22,-20,-18,-16,-14,-12,-10,-8,-6,-4,-2,0,2,4,6], "labels": false, "grid": true, "gridOpacity": {"condition": {"test": "datum.value % 10 === 0", "value": 1}, "value": 0}, "title": null, "tickSize": {"condition": {"test": "datum.value % 10 === 0", "value": -4}, "value": -2}}},
            "color": {"field": "s", "type": "nominal", "scale": {"domain": ["Video↛TrueOpt", "Audio↛TrueOpt", "V+A↛TrueOpt", "NonOptQ↛TrueOpt"], "range": ["#7f1fff", "#22e0c4", "#ff1480", "#ffb000"]}, "legend": {"title": null, "legendX": 127, "legendY": -39}},
            "strokeDash": {"field": "s", "type": "nominal", "scale": {"domain": ["Video↛TrueOpt", "Audio↛TrueOpt", "V+A↛TrueOpt", "NonOptQ↛TrueOpt"], "range": [[1, 0], [1, 0], [7, 3], [1, 0]]}, "legend": {"title": null, "legendX": 127, "legendY": -39}}}},
          {"mark": {"type": "errorband", "opacity": 0.2},
           "encoding": {
            "x": {"field": "l", "type": "quantitative", "scale": {"domain": [0, 27], "nice": false}, "axis": {"orient": "top", "values": [0,2,4,6,8,10,12,14,16,18,20,22,24,26], "labels": false, "domain": false, "grid": false, "title": null, "tickSize": {"condition": {"test": "datum.value % 10 === 0", "value": -4}, "value": -2}}},
            "y": {"field": "v", "type": "quantitative", "scale": {"domain": [-56, 7], "nice": false, "zero": false}, "axis": {"orient": "right", "values": [-54,-52,-50,-48,-46,-44,-42,-40,-38,-36,-34,-32,-30,-28,-26,-24,-22,-20,-18,-16,-14,-12,-10,-8,-6,-4,-2,0,2,4,6], "labels": false, "domain": false, "grid": false, "title": null, "tickSize": {"condition": {"test": "datum.value % 10 === 0", "value": -4}, "value": -2}}},
            "yError": {"field": "e"},
            "color": {"field": "s", "type": "nominal", "scale": {"domain": ["Video↛TrueOpt", "Audio↛TrueOpt", "V+A↛TrueOpt", "NonOptQ↛TrueOpt"], "range": ["#7f1fff", "#22e0c4", "#ff1480", "#ffb000"]}, "legend": null}}}
         ],
         "resolve": {"axis": {"x": "independent", "y": "independent"}}},
        {"title": "(d) Speaker Recognition", "width": 178, "height": 179, "transform": [{"filter": "datum.p === 'd'"}],
         "layer": [
          {"mark": {"type": "rule", "color": "#999999", "strokeWidth": 0.7, "strokeDash": [3, 2]}, "encoding": {"y": {"datum": 0, "type": "quantitative", "scale": {"domain": [-56, 7], "nice": false, "zero": false}, "axis": null}}},
          {"mark": {"type": "line", "strokeWidth": 2},
           "encoding": {
            "x": {"field": "l", "type": "quantitative", "scale": {"domain": [0, 27], "nice": false}, "axis": {"orient": "bottom", "values": [0,2,4,6,8,10,12,14,16,18,20,22,24,26], "labelExpr": "datum.value % 10 === 0 ? datum.label : ''", "grid": true, "gridOpacity": {"condition": {"test": "datum.value % 10 === 0", "value": 1}, "value": 0}, "title": "Layer", "tickSize": {"condition": {"test": "datum.value % 10 === 0", "value": -4}, "value": -2}}},
            "y": {"field": "v", "type": "quantitative", "scale": {"domain": [-56, 7], "nice": false, "zero": false}, "axis": {"orient": "left", "values": [-54,-52,-50,-48,-46,-44,-42,-40,-38,-36,-34,-32,-30,-28,-26,-24,-22,-20,-18,-16,-14,-12,-10,-8,-6,-4,-2,0,2,4,6], "labels": false, "grid": true, "gridOpacity": {"condition": {"test": "datum.value % 10 === 0", "value": 1}, "value": 0}, "title": null, "tickSize": {"condition": {"test": "datum.value % 10 === 0", "value": -4}, "value": -2}}},
            "color": {"field": "s", "type": "nominal", "scale": {"domain": ["Video↛TrueOpt", "Audio↛TrueOpt", "V+A↛TrueOpt", "NonOptQ↛TrueOpt"], "range": ["#7f1fff", "#22e0c4", "#ff1480", "#ffb000"]}, "legend": {"title": null, "legendX": 127, "legendY": -39}},
            "strokeDash": {"field": "s", "type": "nominal", "scale": {"domain": ["Video↛TrueOpt", "Audio↛TrueOpt", "V+A↛TrueOpt", "NonOptQ↛TrueOpt"], "range": [[1, 0], [1, 0], [7, 3], [1, 0]]}, "legend": {"title": null, "legendX": 127, "legendY": -39}}}},
          {"mark": {"type": "errorband", "opacity": 0.2},
           "encoding": {
            "x": {"field": "l", "type": "quantitative", "scale": {"domain": [0, 27], "nice": false}, "axis": {"orient": "top", "values": [0,2,4,6,8,10,12,14,16,18,20,22,24,26], "labels": false, "domain": false, "grid": false, "title": null, "tickSize": {"condition": {"test": "datum.value % 10 === 0", "value": -4}, "value": -2}}},
            "y": {"field": "v", "type": "quantitative", "scale": {"domain": [-56, 7], "nice": false, "zero": false}, "axis": {"orient": "right", "values": [-54,-52,-50,-48,-46,-44,-42,-40,-38,-36,-34,-32,-30,-28,-26,-24,-22,-20,-18,-16,-14,-12,-10,-8,-6,-4,-2,0,2,4,6], "labels": false, "domain": false, "grid": false, "title": null, "tickSize": {"condition": {"test": "datum.value % 10 === 0", "value": -4}, "value": -2}}},
            "yError": {"field": "e"},
            "color": {"field": "s", "type": "nominal", "scale": {"domain": ["Video↛TrueOpt", "Audio↛TrueOpt", "V+A↛TrueOpt", "NonOptQ↛TrueOpt"], "range": ["#7f1fff", "#22e0c4", "#ff1480", "#ffb000"]}, "legend": null}}}
         ],
         "resolve": {"axis": {"x": "independent", "y": "independent"}}},
        {"title": "(e) Speaker Detection", "width": 178, "height": 179, "transform": [{"filter": "datum.p === 'e'"}],
         "layer": [
          {"mark": {"type": "rule", "color": "#999999", "strokeWidth": 0.7, "strokeDash": [3, 2]}, "encoding": {"y": {"datum": 0, "type": "quantitative", "scale": {"domain": [-56, 7], "nice": false, "zero": false}, "axis": null}}},
          {"mark": {"type": "line", "strokeWidth": 2},
           "encoding": {
            "x": {"field": "l", "type": "quantitative", "scale": {"domain": [0, 27], "nice": false}, "axis": {"orient": "bottom", "values": [0,2,4,6,8,10,12,14,16,18,20,22,24,26], "labelExpr": "datum.value % 10 === 0 ? datum.label : ''", "grid": true, "gridOpacity": {"condition": {"test": "datum.value % 10 === 0", "value": 1}, "value": 0}, "title": "Layer", "tickSize": {"condition": {"test": "datum.value % 10 === 0", "value": -4}, "value": -2}}},
            "y": {"field": "v", "type": "quantitative", "scale": {"domain": [-56, 7], "nice": false, "zero": false}, "axis": {"orient": "left", "values": [-54,-52,-50,-48,-46,-44,-42,-40,-38,-36,-34,-32,-30,-28,-26,-24,-22,-20,-18,-16,-14,-12,-10,-8,-6,-4,-2,0,2,4,6], "labels": false, "grid": true, "gridOpacity": {"condition": {"test": "datum.value % 10 === 0", "value": 1}, "value": 0}, "title": null, "tickSize": {"condition": {"test": "datum.value % 10 === 0", "value": -4}, "value": -2}}},
            "color": {"field": "s", "type": "nominal", "scale": {"domain": ["Video↛TrueOpt", "Audio↛TrueOpt", "V+A↛TrueOpt", "NonOptQ↛TrueOpt"], "range": ["#7f1fff", "#22e0c4", "#ff1480", "#ffb000"]}, "legend": {"title": null, "legendX": 127, "legendY": -39}},
            "strokeDash": {"field": "s", "type": "nominal", "scale": {"domain": ["Video↛TrueOpt", "Audio↛TrueOpt", "V+A↛TrueOpt", "NonOptQ↛TrueOpt"], "range": [[1, 0], [1, 0], [7, 3], [1, 0]]}, "legend": {"title": null, "legendX": 127, "legendY": -39}}}},
          {"mark": {"type": "errorband", "opacity": 0.2},
           "encoding": {
            "x": {"field": "l", "type": "quantitative", "scale": {"domain": [0, 27], "nice": false}, "axis": {"orient": "top", "values": [0,2,4,6,8,10,12,14,16,18,20,22,24,26], "labels": false, "domain": false, "grid": false, "title": null, "tickSize": {"condition": {"test": "datum.value % 10 === 0", "value": -4}, "value": -2}}},
            "y": {"field": "v", "type": "quantitative", "scale": {"domain": [-56, 7], "nice": false, "zero": false}, "axis": {"orient": "right", "values": [-54,-52,-50,-48,-46,-44,-42,-40,-38,-36,-34,-32,-30,-28,-26,-24,-22,-20,-18,-16,-14,-12,-10,-8,-6,-4,-2,0,2,4,6], "labels": false, "domain": false, "grid": false, "title": null, "tickSize": {"condition": {"test": "datum.value % 10 === 0", "value": -4}, "value": -2}}},
            "yError": {"field": "e"},
            "color": {"field": "s", "type": "nominal", "scale": {"domain": ["Video↛TrueOpt", "Audio↛TrueOpt", "V+A↛TrueOpt", "NonOptQ↛TrueOpt"], "range": ["#7f1fff", "#22e0c4", "#ff1480", "#ffb000"]}, "legend": null}}}
         ],
         "resolve": {"axis": {"x": "independent", "y": "independent"}}}
      ],
      "resolve": {"scale": {"x": "independent", "y": "independent", "color": "shared", "strokeDash": "shared"}}
    },
    {
      "data": {"name": "r2"},
      "transform": [{"flatten": ["l", "v", "e"]}],
      "spacing": 16,
      "hconcat": [
        {"title": "(a) Visual Recognition", "width": 178, "height": 179, "transform": [{"filter": "datum.p === 'a'"}],
         "layer": [
          {"mark": {"type": "rule", "color": "#999999", "strokeWidth": 0.7, "strokeDash": [3, 2]}, "encoding": {"y": {"datum": 0, "type": "quantitative", "scale": {"domain": [-23.5, 7.5], "nice": false, "zero": false}, "axis": null}}},
          {"mark": {"type": "line", "strokeWidth": 2},
           "encoding": {
            "x": {"field": "l", "type": "quantitative", "scale": {"domain": [0, 27], "nice": false}, "axis": {"orient": "bottom", "values": [0,2,4,6,8,10,12,14,16,18,20,22,24,26], "labelExpr": "datum.value % 10 === 0 ? datum.label : ''", "grid": true, "gridOpacity": {"condition": {"test": "datum.value % 10 === 0", "value": 1}, "value": 0}, "title": "Layer", "tickSize": {"condition": {"test": "datum.value % 10 === 0", "value": -4}, "value": -2}}},
            "y": {"field": "v", "type": "quantitative", "scale": {"domain": [-23.5, 7.5], "nice": false, "zero": false}, "axis": {"orient": "left", "values": [-23,-22,-21,-20,-19,-18,-17,-16,-15,-14,-13,-12,-11,-10,-9,-8,-7,-6,-5,-4,-3,-2,-1,0,1,2,3,4,5,6,7], "labelExpr": "datum.value % 5 === 0 ? replace(datum.label, '-', '−') : ''", "labelPadding": 5, "grid": true, "gridOpacity": {"condition": {"test": "datum.value % 5 === 0", "value": 1}, "value": 0}, "title": "% Change in Probability", "titleFont": "DejaVu Sans", "titleFontSize": 12, "titlePadding": 6, "tickSize": {"condition": {"test": "datum.value % 5 === 0", "value": -4}, "value": -2}}},
            "color": {"field": "s", "type": "nominal", "scale": {"domain": ["Video↛NonOptQ", "Audio↛NonOptQ", "V+A↛NonOptQ"], "range": ["#1e90ff", "#ff4a4a", "#3ae21a"]}, "legend": {"title": null, "legendX": 224, "legendY": -39}},
            "strokeDash": {"field": "s", "type": "nominal", "scale": {"domain": ["Video↛NonOptQ", "Audio↛NonOptQ", "V+A↛NonOptQ"], "range": [[1, 0], [1, 0], [7, 3]]}, "legend": {"title": null, "legendX": 224, "legendY": -39}}}},
          {"mark": {"type": "errorband", "opacity": 0.2},
           "encoding": {
            "x": {"field": "l", "type": "quantitative", "scale": {"domain": [0, 27], "nice": false}, "axis": {"orient": "top", "values": [0,2,4,6,8,10,12,14,16,18,20,22,24,26], "labels": false, "domain": false, "grid": false, "title": null, "tickSize": {"condition": {"test": "datum.value % 10 === 0", "value": -4}, "value": -2}}},
            "y": {"field": "v", "type": "quantitative", "scale": {"domain": [-23.5, 7.5], "nice": false, "zero": false}, "axis": {"orient": "right", "values": [-23,-22,-21,-20,-19,-18,-17,-16,-15,-14,-13,-12,-11,-10,-9,-8,-7,-6,-5,-4,-3,-2,-1,0,1,2,3,4,5,6,7], "labels": false, "domain": false, "grid": false, "title": null, "tickSize": {"condition": {"test": "datum.value % 5 === 0", "value": -4}, "value": -2}}},
            "yError": {"field": "e"},
            "color": {"field": "s", "type": "nominal", "scale": {"domain": ["Video↛NonOptQ", "Audio↛NonOptQ", "V+A↛NonOptQ"], "range": ["#1e90ff", "#ff4a4a", "#3ae21a"]}, "legend": null}}}
         ],
         "resolve": {"axis": {"x": "independent", "y": "independent"}}},
        {"title": "(b) Speech Attributes", "width": 178, "height": 179, "transform": [{"filter": "datum.p === 'b'"}],
         "layer": [
          {"mark": {"type": "rule", "color": "#999999", "strokeWidth": 0.7, "strokeDash": [3, 2]}, "encoding": {"y": {"datum": 0, "type": "quantitative", "scale": {"domain": [-23.5, 7.5], "nice": false, "zero": false}, "axis": null}}},
          {"mark": {"type": "line", "strokeWidth": 2},
           "encoding": {
            "x": {"field": "l", "type": "quantitative", "scale": {"domain": [0, 27], "nice": false}, "axis": {"orient": "bottom", "values": [0,2,4,6,8,10,12,14,16,18,20,22,24,26], "labelExpr": "datum.value % 10 === 0 ? datum.label : ''", "grid": true, "gridOpacity": {"condition": {"test": "datum.value % 10 === 0", "value": 1}, "value": 0}, "title": "Layer", "tickSize": {"condition": {"test": "datum.value % 10 === 0", "value": -4}, "value": -2}}},
            "y": {"field": "v", "type": "quantitative", "scale": {"domain": [-23.5, 7.5], "nice": false, "zero": false}, "axis": {"orient": "left", "values": [-23,-22,-21,-20,-19,-18,-17,-16,-15,-14,-13,-12,-11,-10,-9,-8,-7,-6,-5,-4,-3,-2,-1,0,1,2,3,4,5,6,7], "labels": false, "grid": true, "gridOpacity": {"condition": {"test": "datum.value % 5 === 0", "value": 1}, "value": 0}, "title": null, "tickSize": {"condition": {"test": "datum.value % 5 === 0", "value": -4}, "value": -2}}},
            "color": {"field": "s", "type": "nominal", "scale": {"domain": ["Video↛NonOptQ", "Audio↛NonOptQ", "V+A↛NonOptQ"], "range": ["#1e90ff", "#ff4a4a", "#3ae21a"]}, "legend": {"title": null, "legendX": 224, "legendY": -39}},
            "strokeDash": {"field": "s", "type": "nominal", "scale": {"domain": ["Video↛NonOptQ", "Audio↛NonOptQ", "V+A↛NonOptQ"], "range": [[1, 0], [1, 0], [7, 3]]}, "legend": {"title": null, "legendX": 224, "legendY": -39}}}},
          {"mark": {"type": "errorband", "opacity": 0.2},
           "encoding": {
            "x": {"field": "l", "type": "quantitative", "scale": {"domain": [0, 27], "nice": false}, "axis": {"orient": "top", "values": [0,2,4,6,8,10,12,14,16,18,20,22,24,26], "labels": false, "domain": false, "grid": false, "title": null, "tickSize": {"condition": {"test": "datum.value % 10 === 0", "value": -4}, "value": -2}}},
            "y": {"field": "v", "type": "quantitative", "scale": {"domain": [-23.5, 7.5], "nice": false, "zero": false}, "axis": {"orient": "right", "values": [-23,-22,-21,-20,-19,-18,-17,-16,-15,-14,-13,-12,-11,-10,-9,-8,-7,-6,-5,-4,-3,-2,-1,0,1,2,3,4,5,6,7], "labels": false, "domain": false, "grid": false, "title": null, "tickSize": {"condition": {"test": "datum.value % 5 === 0", "value": -4}, "value": -2}}},
            "yError": {"field": "e"},
            "color": {"field": "s", "type": "nominal", "scale": {"domain": ["Video↛NonOptQ", "Audio↛NonOptQ", "V+A↛NonOptQ"], "range": ["#1e90ff", "#ff4a4a", "#3ae21a"]}, "legend": null}}}
         ],
         "resolve": {"axis": {"x": "independent", "y": "independent"}}},
        {"title": "(c) Speech Recognition", "width": 178, "height": 179, "transform": [{"filter": "datum.p === 'c'"}],
         "layer": [
          {"mark": {"type": "rule", "color": "#999999", "strokeWidth": 0.7, "strokeDash": [3, 2]}, "encoding": {"y": {"datum": 0, "type": "quantitative", "scale": {"domain": [-23.5, 7.5], "nice": false, "zero": false}, "axis": null}}},
          {"mark": {"type": "line", "strokeWidth": 2},
           "encoding": {
            "x": {"field": "l", "type": "quantitative", "scale": {"domain": [0, 27], "nice": false}, "axis": {"orient": "bottom", "values": [0,2,4,6,8,10,12,14,16,18,20,22,24,26], "labelExpr": "datum.value % 10 === 0 ? datum.label : ''", "grid": true, "gridOpacity": {"condition": {"test": "datum.value % 10 === 0", "value": 1}, "value": 0}, "title": "Layer", "tickSize": {"condition": {"test": "datum.value % 10 === 0", "value": -4}, "value": -2}}},
            "y": {"field": "v", "type": "quantitative", "scale": {"domain": [-23.5, 7.5], "nice": false, "zero": false}, "axis": {"orient": "left", "values": [-23,-22,-21,-20,-19,-18,-17,-16,-15,-14,-13,-12,-11,-10,-9,-8,-7,-6,-5,-4,-3,-2,-1,0,1,2,3,4,5,6,7], "labels": false, "grid": true, "gridOpacity": {"condition": {"test": "datum.value % 5 === 0", "value": 1}, "value": 0}, "title": null, "tickSize": {"condition": {"test": "datum.value % 5 === 0", "value": -4}, "value": -2}}},
            "color": {"field": "s", "type": "nominal", "scale": {"domain": ["Video↛NonOptQ", "Audio↛NonOptQ", "V+A↛NonOptQ"], "range": ["#1e90ff", "#ff4a4a", "#3ae21a"]}, "legend": {"title": null, "legendX": 224, "legendY": -39}},
            "strokeDash": {"field": "s", "type": "nominal", "scale": {"domain": ["Video↛NonOptQ", "Audio↛NonOptQ", "V+A↛NonOptQ"], "range": [[1, 0], [1, 0], [7, 3]]}, "legend": {"title": null, "legendX": 224, "legendY": -39}}}},
          {"mark": {"type": "errorband", "opacity": 0.2},
           "encoding": {
            "x": {"field": "l", "type": "quantitative", "scale": {"domain": [0, 27], "nice": false}, "axis": {"orient": "top", "values": [0,2,4,6,8,10,12,14,16,18,20,22,24,26], "labels": false, "domain": false, "grid": false, "title": null, "tickSize": {"condition": {"test": "datum.value % 10 === 0", "value": -4}, "value": -2}}},
            "y": {"field": "v", "type": "quantitative", "scale": {"domain": [-23.5, 7.5], "nice": false, "zero": false}, "axis": {"orient": "right", "values": [-23,-22,-21,-20,-19,-18,-17,-16,-15,-14,-13,-12,-11,-10,-9,-8,-7,-6,-5,-4,-3,-2,-1,0,1,2,3,4,5,6,7], "labels": false, "domain": false, "grid": false, "title": null, "tickSize": {"condition": {"test": "datum.value % 5 === 0", "value": -4}, "value": -2}}},
            "yError": {"field": "e"},
            "color": {"field": "s", "type": "nominal", "scale": {"domain": ["Video↛NonOptQ", "Audio↛NonOptQ", "V+A↛NonOptQ"], "range": ["#1e90ff", "#ff4a4a", "#3ae21a"]}, "legend": null}}}
         ],
         "resolve": {"axis": {"x": "independent", "y": "independent"}}},
        {"title": "(d) Speaker Recognition", "width": 178, "height": 179, "transform": [{"filter": "datum.p === 'd'"}],
         "layer": [
          {"mark": {"type": "rule", "color": "#999999", "strokeWidth": 0.7, "strokeDash": [3, 2]}, "encoding": {"y": {"datum": 0, "type": "quantitative", "scale": {"domain": [-23.5, 7.5], "nice": false, "zero": false}, "axis": null}}},
          {"mark": {"type": "line", "strokeWidth": 2},
           "encoding": {
            "x": {"field": "l", "type": "quantitative", "scale": {"domain": [0, 27], "nice": false}, "axis": {"orient": "bottom", "values": [0,2,4,6,8,10,12,14,16,18,20,22,24,26], "labelExpr": "datum.value % 10 === 0 ? datum.label : ''", "grid": true, "gridOpacity": {"condition": {"test": "datum.value % 10 === 0", "value": 1}, "value": 0}, "title": "Layer", "tickSize": {"condition": {"test": "datum.value % 10 === 0", "value": -4}, "value": -2}}},
            "y": {"field": "v", "type": "quantitative", "scale": {"domain": [-23.5, 7.5], "nice": false, "zero": false}, "axis": {"orient": "left", "values": [-23,-22,-21,-20,-19,-18,-17,-16,-15,-14,-13,-12,-11,-10,-9,-8,-7,-6,-5,-4,-3,-2,-1,0,1,2,3,4,5,6,7], "labels": false, "grid": true, "gridOpacity": {"condition": {"test": "datum.value % 5 === 0", "value": 1}, "value": 0}, "title": null, "tickSize": {"condition": {"test": "datum.value % 5 === 0", "value": -4}, "value": -2}}},
            "color": {"field": "s", "type": "nominal", "scale": {"domain": ["Video↛NonOptQ", "Audio↛NonOptQ", "V+A↛NonOptQ"], "range": ["#1e90ff", "#ff4a4a", "#3ae21a"]}, "legend": {"title": null, "legendX": 224, "legendY": -39}},
            "strokeDash": {"field": "s", "type": "nominal", "scale": {"domain": ["Video↛NonOptQ", "Audio↛NonOptQ", "V+A↛NonOptQ"], "range": [[1, 0], [1, 0], [7, 3]]}, "legend": {"title": null, "legendX": 224, "legendY": -39}}}},
          {"mark": {"type": "errorband", "opacity": 0.2},
           "encoding": {
            "x": {"field": "l", "type": "quantitative", "scale": {"domain": [0, 27], "nice": false}, "axis": {"orient": "top", "values": [0,2,4,6,8,10,12,14,16,18,20,22,24,26], "labels": false, "domain": false, "grid": false, "title": null, "tickSize": {"condition": {"test": "datum.value % 10 === 0", "value": -4}, "value": -2}}},
            "y": {"field": "v", "type": "quantitative", "scale": {"domain": [-23.5, 7.5], "nice": false, "zero": false}, "axis": {"orient": "right", "values": [-23,-22,-21,-20,-19,-18,-17,-16,-15,-14,-13,-12,-11,-10,-9,-8,-7,-6,-5,-4,-3,-2,-1,0,1,2,3,4,5,6,7], "labels": false, "domain": false, "grid": false, "title": null, "tickSize": {"condition": {"test": "datum.value % 5 === 0", "value": -4}, "value": -2}}},
            "yError": {"field": "e"},
            "color": {"field": "s", "type": "nominal", "scale": {"domain": ["Video↛NonOptQ", "Audio↛NonOptQ", "V+A↛NonOptQ"], "range": ["#1e90ff", "#ff4a4a", "#3ae21a"]}, "legend": null}}}
         ],
         "resolve": {"axis": {"x": "independent", "y": "independent"}}},
        {"title": "(e) Speaker Detection", "width": 178, "height": 179, "transform": [{"filter": "datum.p === 'e'"}],
         "layer": [
          {"mark": {"type": "rule", "color": "#999999", "strokeWidth": 0.7, "strokeDash": [3, 2]}, "encoding": {"y": {"datum": 0, "type": "quantitative", "scale": {"domain": [-23.5, 7.5], "nice": false, "zero": false}, "axis": null}}},
          {"mark": {"type": "line", "strokeWidth": 2},
           "encoding": {
            "x": {"field": "l", "type": "quantitative", "scale": {"domain": [0, 27], "nice": false}, "axis": {"orient": "bottom", "values": [0,2,4,6,8,10,12,14,16,18,20,22,24,26], "labelExpr": "datum.value % 10 === 0 ? datum.label : ''", "grid": true, "gridOpacity": {"condition": {"test": "datum.value % 10 === 0", "value": 1}, "value": 0}, "title": "Layer", "tickSize": {"condition": {"test": "datum.value % 10 === 0", "value": -4}, "value": -2}}},
            "y": {"field": "v", "type": "quantitative", "scale": {"domain": [-23.5, 7.5], "nice": false, "zero": false}, "axis": {"orient": "left", "values": [-23,-22,-21,-20,-19,-18,-17,-16,-15,-14,-13,-12,-11,-10,-9,-8,-7,-6,-5,-4,-3,-2,-1,0,1,2,3,4,5,6,7], "labels": false, "grid": true, "gridOpacity": {"condition": {"test": "datum.value % 5 === 0", "value": 1}, "value": 0}, "title": null, "tickSize": {"condition": {"test": "datum.value % 5 === 0", "value": -4}, "value": -2}}},
            "color": {"field": "s", "type": "nominal", "scale": {"domain": ["Video↛NonOptQ", "Audio↛NonOptQ", "V+A↛NonOptQ"], "range": ["#1e90ff", "#ff4a4a", "#3ae21a"]}, "legend": {"title": null, "legendX": 224, "legendY": -39}},
            "strokeDash": {"field": "s", "type": "nominal", "scale": {"domain": ["Video↛NonOptQ", "Audio↛NonOptQ", "V+A↛NonOptQ"], "range": [[1, 0], [1, 0], [7, 3]]}, "legend": {"title": null, "legendX": 224, "legendY": -39}}}},
          {"mark": {"type": "errorband", "opacity": 0.2},
           "encoding": {
            "x": {"field": "l", "type": "quantitative", "scale": {"domain": [0, 27], "nice": false}, "axis": {"orient": "top", "values": [0,2,4,6,8,10,12,14,16,18,20,22,24,26], "labels": false, "domain": false, "grid": false, "title": null, "tickSize": {"condition": {"test": "datum.value % 10 === 0", "value": -4}, "value": -2}}},
            "y": {"field": "v", "type": "quantitative", "scale": {"domain": [-23.5, 7.5], "nice": false, "zero": false}, "axis": {"orient": "right", "values": [-23,-22,-21,-20,-19,-18,-17,-16,-15,-14,-13,-12,-11,-10,-9,-8,-7,-6,-5,-4,-3,-2,-1,0,1,2,3,4,5,6,7], "labels": false, "domain": false, "grid": false, "title": null, "tickSize": {"condition": {"test": "datum.value % 5 === 0", "value": -4}, "value": -2}}},
            "yError": {"field": "e"},
            "color": {"field": "s", "type": "nominal", "scale": {"domain": ["Video↛NonOptQ", "Audio↛NonOptQ", "V+A↛NonOptQ"], "range": ["#1e90ff", "#ff4a4a", "#3ae21a"]}, "legend": null}}}
         ],
         "resolve": {"axis": {"x": "independent", "y": "independent"}}}
      ],
      "resolve": {"scale": {"x": "independent", "y": "independent", "color": "shared", "strokeDash": "shared"}}
    },
    {
      "data": {"name": "r3"},
      "transform": [{"flatten": ["l", "v", "e"]}],
      "spacing": 16,
      "hconcat": [
        {"title": "(a) Visual Recognition", "width": 178, "height": 179, "transform": [{"filter": "datum.p === 'a'"}],
         "layer": [
          {"mark": {"type": "rule", "color": "#999999", "strokeWidth": 0.7, "strokeDash": [3, 2]}, "encoding": {"y": {"datum": 0, "type": "quantitative", "scale": {"domain": [-50.3, 24.4], "nice": false, "zero": false}, "axis": null}}},
          {"mark": {"type": "line", "strokeWidth": 2},
           "encoding": {
            "x": {"field": "l", "type": "quantitative", "scale": {"domain": [0, 27], "nice": false}, "axis": {"orient": "bottom", "values": [0,2,4,6,8,10,12,14,16,18,20,22,24,26], "labelExpr": "datum.value % 10 === 0 ? datum.label : ''", "grid": true, "gridOpacity": {"condition": {"test": "datum.value % 10 === 0", "value": 1}, "value": 0}, "title": "Layer", "tickSize": {"condition": {"test": "datum.value % 10 === 0", "value": -4}, "value": -2}}},
            "y": {"field": "v", "type": "quantitative", "scale": {"domain": [-50.3, 24.4], "nice": false, "zero": false}, "axis": {"orient": "left", "values": [-50,-45,-40,-35,-30,-25,-20,-15,-10,-5,0,5,10,15,20], "labelExpr": "datum.value % 20 === 0 ? replace(datum.label, '-', '−') : ''", "labelPadding": 5, "grid": true, "gridOpacity": {"condition": {"test": "datum.value % 20 === 0", "value": 1}, "value": 0}, "title": "% Change in Probability", "titleFont": "DejaVu Sans", "titleFontSize": 12, "titlePadding": 6, "tickSize": {"condition": {"test": "datum.value % 20 === 0", "value": -4}, "value": -2}}},
            "color": {"field": "s", "type": "nominal", "scale": {"domain": ["NonOptQ↛Last", "TrueOpt↛Last", "FalseOpt↛Last"], "range": ["#ffb000", "#22bb45", "#e3191c"]}, "legend": {"title": null, "legendX": 240, "legendY": -39}}}},
          {"mark": {"type": "errorband", "opacity": 0.2},
           "encoding": {
            "x": {"field": "l", "type": "quantitative", "scale": {"domain": [0, 27], "nice": false}, "axis": {"orient": "top", "values": [0,2,4,6,8,10,12,14,16,18,20,22,24,26], "labels": false, "domain": false, "grid": false, "title": null, "tickSize": {"condition": {"test": "datum.value % 10 === 0", "value": -4}, "value": -2}}},
            "y": {"field": "v", "type": "quantitative", "scale": {"domain": [-50.3, 24.4], "nice": false, "zero": false}, "axis": {"orient": "right", "values": [-50,-45,-40,-35,-30,-25,-20,-15,-10,-5,0,5,10,15,20], "labels": false, "domain": false, "grid": false, "title": null, "tickSize": {"condition": {"test": "datum.value % 20 === 0", "value": -4}, "value": -2}}},
            "yError": {"field": "e"},
            "color": {"field": "s", "type": "nominal", "scale": {"domain": ["NonOptQ↛Last", "TrueOpt↛Last", "FalseOpt↛Last"], "range": ["#ffb000", "#22bb45", "#e3191c"]}, "legend": null}}}
         ],
         "resolve": {"axis": {"x": "independent", "y": "independent"}}},
        {"title": "(b) Speech Attributes", "width": 178, "height": 179, "transform": [{"filter": "datum.p === 'b'"}],
         "layer": [
          {"mark": {"type": "rule", "color": "#999999", "strokeWidth": 0.7, "strokeDash": [3, 2]}, "encoding": {"y": {"datum": 0, "type": "quantitative", "scale": {"domain": [-50.3, 24.4], "nice": false, "zero": false}, "axis": null}}},
          {"mark": {"type": "line", "strokeWidth": 2},
           "encoding": {
            "x": {"field": "l", "type": "quantitative", "scale": {"domain": [0, 27], "nice": false}, "axis": {"orient": "bottom", "values": [0,2,4,6,8,10,12,14,16,18,20,22,24,26], "labelExpr": "datum.value % 10 === 0 ? datum.label : ''", "grid": true, "gridOpacity": {"condition": {"test": "datum.value % 10 === 0", "value": 1}, "value": 0}, "title": "Layer", "tickSize": {"condition": {"test": "datum.value % 10 === 0", "value": -4}, "value": -2}}},
            "y": {"field": "v", "type": "quantitative", "scale": {"domain": [-50.3, 24.4], "nice": false, "zero": false}, "axis": {"orient": "left", "values": [-50,-45,-40,-35,-30,-25,-20,-15,-10,-5,0,5,10,15,20], "labels": false, "grid": true, "gridOpacity": {"condition": {"test": "datum.value % 20 === 0", "value": 1}, "value": 0}, "title": null, "tickSize": {"condition": {"test": "datum.value % 20 === 0", "value": -4}, "value": -2}}},
            "color": {"field": "s", "type": "nominal", "scale": {"domain": ["NonOptQ↛Last", "TrueOpt↛Last", "FalseOpt↛Last"], "range": ["#ffb000", "#22bb45", "#e3191c"]}, "legend": {"title": null, "legendX": 240, "legendY": -39}}}},
          {"mark": {"type": "errorband", "opacity": 0.2},
           "encoding": {
            "x": {"field": "l", "type": "quantitative", "scale": {"domain": [0, 27], "nice": false}, "axis": {"orient": "top", "values": [0,2,4,6,8,10,12,14,16,18,20,22,24,26], "labels": false, "domain": false, "grid": false, "title": null, "tickSize": {"condition": {"test": "datum.value % 10 === 0", "value": -4}, "value": -2}}},
            "y": {"field": "v", "type": "quantitative", "scale": {"domain": [-50.3, 24.4], "nice": false, "zero": false}, "axis": {"orient": "right", "values": [-50,-45,-40,-35,-30,-25,-20,-15,-10,-5,0,5,10,15,20], "labels": false, "domain": false, "grid": false, "title": null, "tickSize": {"condition": {"test": "datum.value % 20 === 0", "value": -4}, "value": -2}}},
            "yError": {"field": "e"},
            "color": {"field": "s", "type": "nominal", "scale": {"domain": ["NonOptQ↛Last", "TrueOpt↛Last", "FalseOpt↛Last"], "range": ["#ffb000", "#22bb45", "#e3191c"]}, "legend": null}}}
         ],
         "resolve": {"axis": {"x": "independent", "y": "independent"}}},
        {"title": "(c) Speech Recognition", "width": 178, "height": 179, "transform": [{"filter": "datum.p === 'c'"}],
         "layer": [
          {"mark": {"type": "rule", "color": "#999999", "strokeWidth": 0.7, "strokeDash": [3, 2]}, "encoding": {"y": {"datum": 0, "type": "quantitative", "scale": {"domain": [-50.3, 24.4], "nice": false, "zero": false}, "axis": null}}},
          {"mark": {"type": "line", "strokeWidth": 2},
           "encoding": {
            "x": {"field": "l", "type": "quantitative", "scale": {"domain": [0, 27], "nice": false}, "axis": {"orient": "bottom", "values": [0,2,4,6,8,10,12,14,16,18,20,22,24,26], "labelExpr": "datum.value % 10 === 0 ? datum.label : ''", "grid": true, "gridOpacity": {"condition": {"test": "datum.value % 10 === 0", "value": 1}, "value": 0}, "title": "Layer", "tickSize": {"condition": {"test": "datum.value % 10 === 0", "value": -4}, "value": -2}}},
            "y": {"field": "v", "type": "quantitative", "scale": {"domain": [-50.3, 24.4], "nice": false, "zero": false}, "axis": {"orient": "left", "values": [-50,-45,-40,-35,-30,-25,-20,-15,-10,-5,0,5,10,15,20], "labels": false, "grid": true, "gridOpacity": {"condition": {"test": "datum.value % 20 === 0", "value": 1}, "value": 0}, "title": null, "tickSize": {"condition": {"test": "datum.value % 20 === 0", "value": -4}, "value": -2}}},
            "color": {"field": "s", "type": "nominal", "scale": {"domain": ["NonOptQ↛Last", "TrueOpt↛Last", "FalseOpt↛Last"], "range": ["#ffb000", "#22bb45", "#e3191c"]}, "legend": {"title": null, "legendX": 240, "legendY": -39}}}},
          {"mark": {"type": "errorband", "opacity": 0.2},
           "encoding": {
            "x": {"field": "l", "type": "quantitative", "scale": {"domain": [0, 27], "nice": false}, "axis": {"orient": "top", "values": [0,2,4,6,8,10,12,14,16,18,20,22,24,26], "labels": false, "domain": false, "grid": false, "title": null, "tickSize": {"condition": {"test": "datum.value % 10 === 0", "value": -4}, "value": -2}}},
            "y": {"field": "v", "type": "quantitative", "scale": {"domain": [-50.3, 24.4], "nice": false, "zero": false}, "axis": {"orient": "right", "values": [-50,-45,-40,-35,-30,-25,-20,-15,-10,-5,0,5,10,15,20], "labels": false, "domain": false, "grid": false, "title": null, "tickSize": {"condition": {"test": "datum.value % 20 === 0", "value": -4}, "value": -2}}},
            "yError": {"field": "e"},
            "color": {"field": "s", "type": "nominal", "scale": {"domain": ["NonOptQ↛Last", "TrueOpt↛Last", "FalseOpt↛Last"], "range": ["#ffb000", "#22bb45", "#e3191c"]}, "legend": null}}}
         ],
         "resolve": {"axis": {"x": "independent", "y": "independent"}}},
        {"title": "(d) Speaker Recognition", "width": 178, "height": 179, "transform": [{"filter": "datum.p === 'd'"}],
         "layer": [
          {"mark": {"type": "rule", "color": "#999999", "strokeWidth": 0.7, "strokeDash": [3, 2]}, "encoding": {"y": {"datum": 0, "type": "quantitative", "scale": {"domain": [-50.3, 24.4], "nice": false, "zero": false}, "axis": null}}},
          {"mark": {"type": "line", "strokeWidth": 2},
           "encoding": {
            "x": {"field": "l", "type": "quantitative", "scale": {"domain": [0, 27], "nice": false}, "axis": {"orient": "bottom", "values": [0,2,4,6,8,10,12,14,16,18,20,22,24,26], "labelExpr": "datum.value % 10 === 0 ? datum.label : ''", "grid": true, "gridOpacity": {"condition": {"test": "datum.value % 10 === 0", "value": 1}, "value": 0}, "title": "Layer", "tickSize": {"condition": {"test": "datum.value % 10 === 0", "value": -4}, "value": -2}}},
            "y": {"field": "v", "type": "quantitative", "scale": {"domain": [-50.3, 24.4], "nice": false, "zero": false}, "axis": {"orient": "left", "values": [-50,-45,-40,-35,-30,-25,-20,-15,-10,-5,0,5,10,15,20], "labels": false, "grid": true, "gridOpacity": {"condition": {"test": "datum.value % 20 === 0", "value": 1}, "value": 0}, "title": null, "tickSize": {"condition": {"test": "datum.value % 20 === 0", "value": -4}, "value": -2}}},
            "color": {"field": "s", "type": "nominal", "scale": {"domain": ["NonOptQ↛Last", "TrueOpt↛Last", "FalseOpt↛Last"], "range": ["#ffb000", "#22bb45", "#e3191c"]}, "legend": {"title": null, "legendX": 240, "legendY": -39}}}},
          {"mark": {"type": "errorband", "opacity": 0.2},
           "encoding": {
            "x": {"field": "l", "type": "quantitative", "scale": {"domain": [0, 27], "nice": false}, "axis": {"orient": "top", "values": [0,2,4,6,8,10,12,14,16,18,20,22,24,26], "labels": false, "domain": false, "grid": false, "title": null, "tickSize": {"condition": {"test": "datum.value % 10 === 0", "value": -4}, "value": -2}}},
            "y": {"field": "v", "type": "quantitative", "scale": {"domain": [-50.3, 24.4], "nice": false, "zero": false}, "axis": {"orient": "right", "values": [-50,-45,-40,-35,-30,-25,-20,-15,-10,-5,0,5,10,15,20], "labels": false, "domain": false, "grid": false, "title": null, "tickSize": {"condition": {"test": "datum.value % 20 === 0", "value": -4}, "value": -2}}},
            "yError": {"field": "e"},
            "color": {"field": "s", "type": "nominal", "scale": {"domain": ["NonOptQ↛Last", "TrueOpt↛Last", "FalseOpt↛Last"], "range": ["#ffb000", "#22bb45", "#e3191c"]}, "legend": null}}}
         ],
         "resolve": {"axis": {"x": "independent", "y": "independent"}}},
        {"title": "(e) Speaker Detection", "width": 178, "height": 179, "transform": [{"filter": "datum.p === 'e'"}],
         "layer": [
          {"mark": {"type": "rule", "color": "#999999", "strokeWidth": 0.7, "strokeDash": [3, 2]}, "encoding": {"y": {"datum": 0, "type": "quantitative", "scale": {"domain": [-50.3, 24.4], "nice": false, "zero": false}, "axis": null}}},
          {"mark": {"type": "line", "strokeWidth": 2},
           "encoding": {
            "x": {"field": "l", "type": "quantitative", "scale": {"domain": [0, 27], "nice": false}, "axis": {"orient": "bottom", "values": [0,2,4,6,8,10,12,14,16,18,20,22,24,26], "labelExpr": "datum.value % 10 === 0 ? datum.label : ''", "grid": true, "gridOpacity": {"condition": {"test": "datum.value % 10 === 0", "value": 1}, "value": 0}, "title": "Layer", "tickSize": {"condition": {"test": "datum.value % 10 === 0", "value": -4}, "value": -2}}},
            "y": {"field": "v", "type": "quantitative", "scale": {"domain": [-50.3, 24.4], "nice": false, "zero": false}, "axis": {"orient": "left", "values": [-50,-45,-40,-35,-30,-25,-20,-15,-10,-5,0,5,10,15,20], "labels": false, "grid": true, "gridOpacity": {"condition": {"test": "datum.value % 20 === 0", "value": 1}, "value": 0}, "title": null, "tickSize": {"condition": {"test": "datum.value % 20 === 0", "value": -4}, "value": -2}}},
            "color": {"field": "s", "type": "nominal", "scale": {"domain": ["NonOptQ↛Last", "TrueOpt↛Last", "FalseOpt↛Last"], "range": ["#ffb000", "#22bb45", "#e3191c"]}, "legend": {"title": null, "legendX": 240, "legendY": -39}}}},
          {"mark": {"type": "errorband", "opacity": 0.2},
           "encoding": {
            "x": {"field": "l", "type": "quantitative", "scale": {"domain": [0, 27], "nice": false}, "axis": {"orient": "top", "values": [0,2,4,6,8,10,12,14,16,18,20,22,24,26], "labels": false, "domain": false, "grid": false, "title": null, "tickSize": {"condition": {"test": "datum.value % 10 === 0", "value": -4}, "value": -2}}},
            "y": {"field": "v", "type": "quantitative", "scale": {"domain": [-50.3, 24.4], "nice": false, "zero": false}, "axis": {"orient": "right", "values": [-50,-45,-40,-35,-30,-25,-20,-15,-10,-5,0,5,10,15,20], "labels": false, "domain": false, "grid": false, "title": null, "tickSize": {"condition": {"test": "datum.value % 20 === 0", "value": -4}, "value": -2}}},
            "yError": {"field": "e"},
            "color": {"field": "s", "type": "nominal", "scale": {"domain": ["NonOptQ↛Last", "TrueOpt↛Last", "FalseOpt↛Last"], "range": ["#ffb000", "#22bb45", "#e3191c"]}, "legend": null}}}
         ],
         "resolve": {"axis": {"x": "independent", "y": "independent"}}}
      ],
      "resolve": {"scale": {"x": "independent", "y": "independent", "color": "shared"}}
    }
  ],
  "resolve": {"scale": {"color": "independent", "strokeDash": "independent"}},
  "spacing": 31,
  "config": {
    "font": "DejaVu Serif",
    "view": {"stroke": null},
    "axis": {"labelFont": "DejaVu Serif", "labelFontSize": 12.5, "labelColor": "#222", "labelPadding": 3, "labelOverlap": false, "labelFlush": false, "titleFont": "DejaVu Serif", "titleFontSize": 12.5, "titleFontWeight": "normal", "titleColor": "#222", "titlePadding": 3, "domainColor": "#222", "domainWidth": 1.2, "tickColor": "#222", "tickWidth": 0.9, "gridColor": "#e4e4e4", "gridWidth": 0.8, "minExtent": 0},
    "title": {"font": "DejaVu Serif", "fontSize": 12.5, "fontWeight": "normal", "color": "#222", "offset": 3},
    "legend": {"orient": "none", "direction": "horizontal", "labelFont": "DejaVu Serif", "labelFontSize": 15, "labelColor": "#111", "symbolType": "M-2,0L2,0", "symbolSize": 400, "symbolStrokeWidth": 2, "labelOffset": 15, "columnPadding": 20, "padding": 0}
  }
}
